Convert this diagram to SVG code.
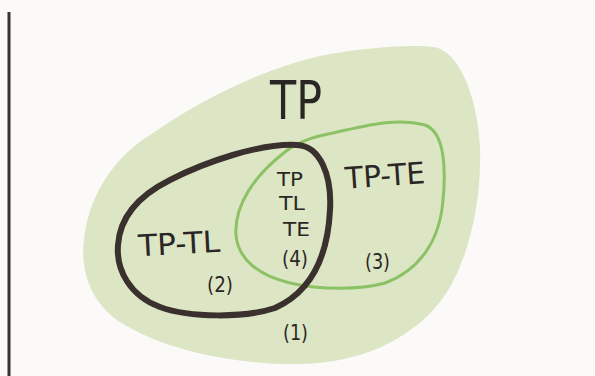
<svg xmlns="http://www.w3.org/2000/svg" width="595" height="376" viewBox="0 0 595 376">
  <style>
    .lbl { font-family: "DejaVu Sans", "Liberation Sans", sans-serif; fill: #2b2626; }
  </style>
  <rect x="0" y="0" width="595" height="376" fill="#fbfaf9"/>
  <line x1="9" y1="12" x2="9" y2="376" stroke="#3a3333" stroke-width="3"/>
  <g id="tp-set">
    <path d="M 433,47 C 460,50 478,100 480,147 C 482,210 465,270 440,302 C 410,340 360,363 300,364 C 240,365 170,352 125,325 C 90,305 80,270 84,240 C 88,200 110,160 150,135 C 200,100 260,70 320,56 C 360,48 410,44 433,47 Z" fill="#dde6c4"/>
    <text class="lbl" x="270" y="119" font-size="54" textLength="52" lengthAdjust="spacingAndGlyphs">TP</text>
    <text class="lbl" x="283" y="340" font-size="22" textLength="25" lengthAdjust="spacingAndGlyphs">(1)</text>
  </g>
  <g id="te-set">
    <path d="M 333,133 C 365,126 395,117 425,125 C 445,132 446,170 443,200 C 440,240 420,270 385,283 C 360,290 320,290 290,283 C 260,276 238,260 236,235 C 234,205 255,175 285,152 C 300,140 318,136 333,133 Z" fill="none" stroke="#8cc265" stroke-width="3"/>
    <text class="lbl" x="345" y="186" font-size="30" textLength="80" lengthAdjust="spacingAndGlyphs" transform="rotate(-4 385 175)">TP-TE</text>
    <text class="lbl" x="365" y="269" font-size="22" textLength="25" lengthAdjust="spacingAndGlyphs">(3)</text>
  </g>
  <g id="tl-set">
    <path d="M 297,145 C 320,146 332,175 330,210 C 328,250 315,290 275,308 C 245,318 190,318 160,307 C 130,296 116,270 118,245 C 120,215 140,195 170,180 C 205,162 260,143 297,145 Z" fill="none" stroke="#3a302d" stroke-width="6"/>
    <text class="lbl" x="138" y="254" font-size="30" textLength="82" lengthAdjust="spacingAndGlyphs" transform="rotate(-3 179 241)">TP-TL</text>
    <text class="lbl" x="207" y="292" font-size="22" textLength="26" lengthAdjust="spacingAndGlyphs">(2)</text>
  </g>
  <g id="intersection">
    <text class="lbl" x="277" y="186" font-size="20" textLength="26" lengthAdjust="spacingAndGlyphs">TP</text>
    <text class="lbl" x="279" y="210" font-size="20" textLength="26" lengthAdjust="spacingAndGlyphs">TL</text>
    <text class="lbl" x="283" y="236" font-size="20" textLength="27" lengthAdjust="spacingAndGlyphs">TE</text>
    <text class="lbl" x="282" y="266" font-size="22" textLength="26" lengthAdjust="spacingAndGlyphs">(4)</text>
  </g>
</svg>
